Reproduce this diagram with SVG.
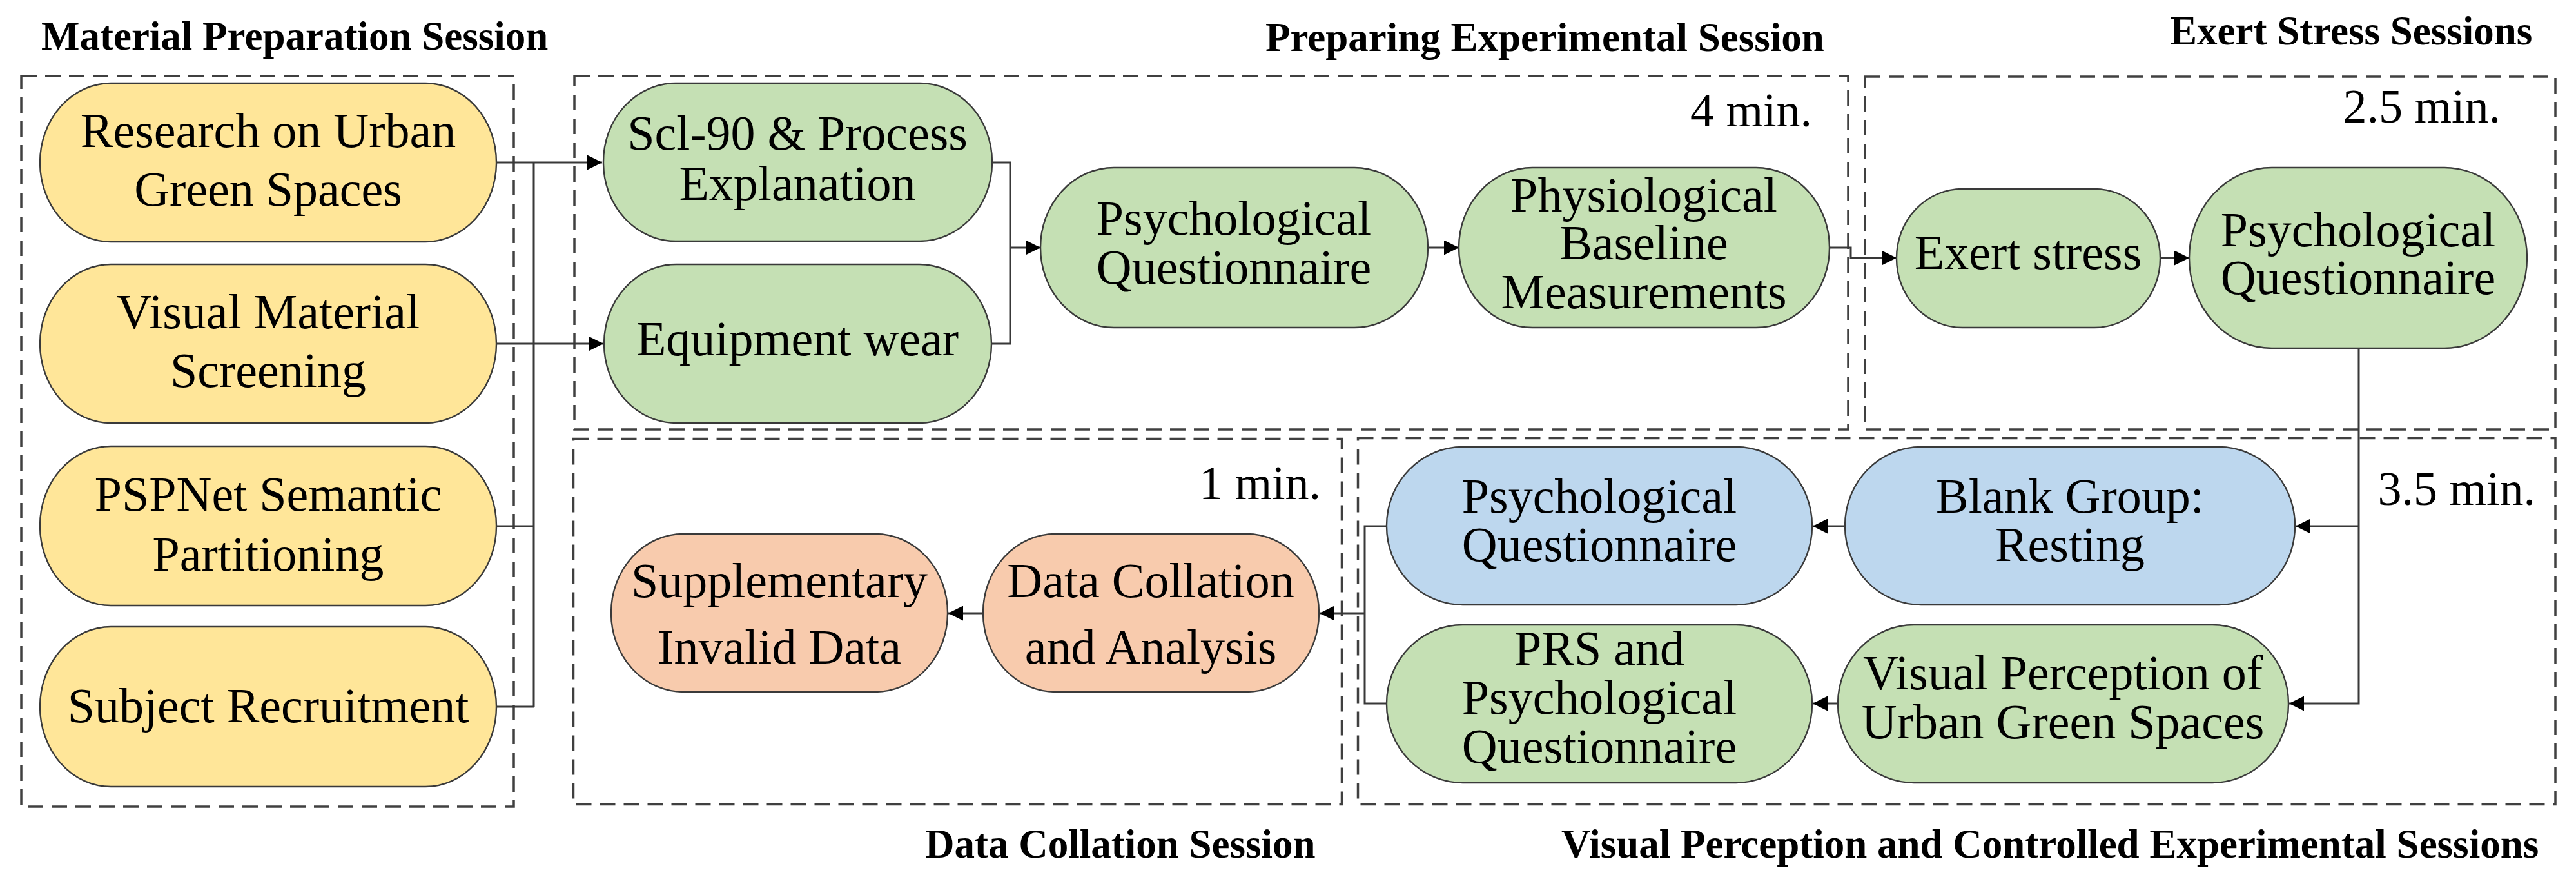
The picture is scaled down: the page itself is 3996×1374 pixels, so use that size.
<svg xmlns="http://www.w3.org/2000/svg" width="3996" height="1374" viewBox="0 0 3996 1374" font-family="'Liberation Serif', 'DejaVu Serif', serif">
<style>
.bg{fill:#ffffff}
.sess{fill:none;stroke:#404040;stroke-width:3.5;stroke-dasharray:24 13}
.node{stroke:#3a3a3a;stroke-width:2.4}
.y{fill:#FFE699}
.g{fill:#C5E0B4}
.b{fill:#BDD7EE}
.o{fill:#F8CBAD}
.t{font-family:'Liberation Serif','DejaVu Serif',serif;font-size:76px;text-anchor:middle;fill:#000}
.h{font-family:'Liberation Serif','DejaVu Serif',serif;font-size:63px;font-weight:bold;fill:#000}
.m{font-family:'Liberation Serif','DejaVu Serif',serif;font-size:74px;text-anchor:end;fill:#000}
.c{fill:none;stroke:#383838;stroke-width:3}
</style>
<defs>
<marker id="arr" markerUnits="userSpaceOnUse" viewBox="0 0 24 24" refX="24" refY="12" markerWidth="24" markerHeight="23" orient="auto">
<path d="M0,0 L24,12 L0,24 z" fill="#000"/>
</marker>
</defs>
<rect class="bg" x="0" y="0" width="3996" height="1374"/>

<g id="sessions">
<rect id="s-material" class="sess" x="33" y="118" width="764" height="1133"/>
<rect id="s-preparing" class="sess" x="891" y="118" width="1976" height="548"/>
<rect id="s-exert" class="sess" x="2893" y="119" width="1071" height="547"/>
<rect id="s-data" class="sess" x="889.5" y="680.5" width="1192" height="567"/>
<rect id="s-visual" class="sess" x="2106.5" y="679.5" width="1857.5" height="568"/>
</g>

<g id="titles">
<text class="h" x="64" y="77">Material Preparation Session</text>
<text class="h" x="1963" y="79">Preparing Experimental Session</text>
<text class="h" x="3366" y="69">Exert Stress Sessions</text>
<text class="h" x="1435" y="1330">Data Collation Session</text>
<text class="h" x="2422" y="1330">Visual Perception and Controlled Experimental Sessions</text>
<text class="m" x="2811" y="196">4 min.</text>
<text class="m" x="3879" y="190">2.5 min.</text>
<text class="m" x="2049" y="774">1 min.</text>
<text class="m" x="3933" y="783">3.5 min.</text>
</g>

<g id="connectors">
<path class="c" d="M770,252 H934" marker-end="url(#arr)"/>
<path class="c" d="M770,533 H936" marker-end="url(#arr)"/>
<path class="c" d="M770,816 H828"/>
<path class="c" d="M770,1096 H828"/>
<path class="c" d="M828,252 V1096"/>
<path class="c" d="M1539,252 H1567 V533 H1538"/>
<path class="c" d="M1567,384 H1614" marker-end="url(#arr)"/>
<path class="c" d="M2215,384 H2263" marker-end="url(#arr)"/>
<path class="c" d="M2838,384 H2871 V400 H2942" marker-end="url(#arr)"/>
<path class="c" d="M3351,400 H3396" marker-end="url(#arr)"/>
<path class="c" d="M3659,540 V1091 H3551" marker-end="url(#arr)"/>
<path class="c" d="M3659,816 H3561" marker-end="url(#arr)"/>
<path class="c" d="M2862,816 H2812" marker-end="url(#arr)"/>
<path class="c" d="M2851,1091 H2812" marker-end="url(#arr)"/>
<path class="c" d="M2151,816 H2117 V1091 H2151"/>
<path class="c" d="M2117,951 H2047" marker-end="url(#arr)"/>
<path class="c" d="M1525,951 H1471" marker-end="url(#arr)"/>
</g>

<g id="n-research">
<rect class="node y" x="62" y="129" width="708" height="246" rx="110" ry="123"/>
<text class="t" x="416" y="228">Research on Urban</text>
<text class="t" x="416" y="319">Green Spaces</text>
</g>
<g id="n-visual-material">
<rect class="node y" x="62" y="410" width="708" height="246" rx="110" ry="123"/>
<text class="t" x="416" y="509">Visual Material</text>
<text class="t" x="416" y="600">Screening</text>
</g>
<g id="n-pspnet">
<rect class="node y" x="62" y="692" width="708" height="247" rx="110" ry="123"/>
<text class="t" x="416" y="792">PSPNet Semantic</text>
<text class="t" x="416" y="885">Partitioning</text>
</g>
<g id="n-subject">
<rect class="node y" x="62" y="972" width="708" height="248" rx="110" ry="124"/>
<text class="t" x="416" y="1120">Subject Recruitment</text>
</g>

<g id="n-scl90">
<rect class="node g" x="936" y="129" width="603" height="245" rx="112" ry="122"/>
<text class="t" x="1237" y="232">Scl-90 &amp; Process</text>
<text class="t" x="1237" y="310">Explanation</text>
</g>
<g id="n-equipment">
<rect class="node g" x="937" y="410" width="601" height="246" rx="112" ry="123"/>
<text class="t" x="1237" y="551">Equipment wear</text>
</g>
<g id="n-psych1">
<rect class="node g" x="1614" y="260" width="601" height="248" rx="114" ry="124"/>
<text class="t" x="1914" y="364">Psychological</text>
<text class="t" x="1914" y="440">Questionnaire</text>
</g>
<g id="n-physio">
<rect class="node g" x="2263" y="260" width="575" height="248" rx="114" ry="124"/>
<text class="t" x="2550" y="328">Physiological</text>
<text class="t" x="2550" y="402">Baseline</text>
<text class="t" x="2550" y="478">Measurements</text>
</g>
<g id="n-exert">
<rect class="node g" x="2942" y="293" width="409" height="215" rx="102" ry="107"/>
<text class="t" x="3146" y="417">Exert stress</text>
</g>
<g id="n-psych2">
<rect class="node g" x="3396" y="260" width="524" height="280" rx="128" ry="140"/>
<text class="t" x="3658" y="382">Psychological</text>
<text class="t" x="3658" y="456">Questionnaire</text>
</g>

<g id="n-blank">
<rect class="node b" x="2862" y="693" width="698" height="245" rx="118" ry="122"/>
<text class="t" x="3211" y="795">Blank Group:</text>
<text class="t" x="3211" y="870">Resting</text>
</g>
<g id="n-psych3">
<rect class="node b" x="2151" y="693" width="660" height="245" rx="118" ry="122"/>
<text class="t" x="2481" y="795">Psychological</text>
<text class="t" x="2481" y="870">Questionnaire</text>
</g>
<g id="n-vp">
<rect class="node g" x="2851" y="969" width="699" height="245" rx="118" ry="122"/>
<text class="t" x="3200" y="1069">Visual Perception of</text>
<text class="t" x="3200" y="1145">Urban Green Spaces</text>
</g>
<g id="n-prs">
<rect class="node g" x="2151" y="969" width="660" height="245" rx="118" ry="122"/>
<text class="t" x="2481" y="1031">PRS and</text>
<text class="t" x="2481" y="1107">Psychological</text>
<text class="t" x="2481" y="1183">Questionnaire</text>
</g>

<g id="n-collation">
<rect class="node o" x="1525" y="828" width="521" height="245" rx="112" ry="122"/>
<text class="t" x="1785" y="926">Data Collation</text>
<text class="t" x="1785" y="1029">and Analysis</text>
</g>
<g id="n-supplementary">
<rect class="node o" x="948" y="828" width="522" height="245" rx="112" ry="122"/>
<text class="t" x="1209" y="926">Supplementary</text>
<text class="t" x="1209" y="1029">Invalid Data</text>
</g>
</svg>
